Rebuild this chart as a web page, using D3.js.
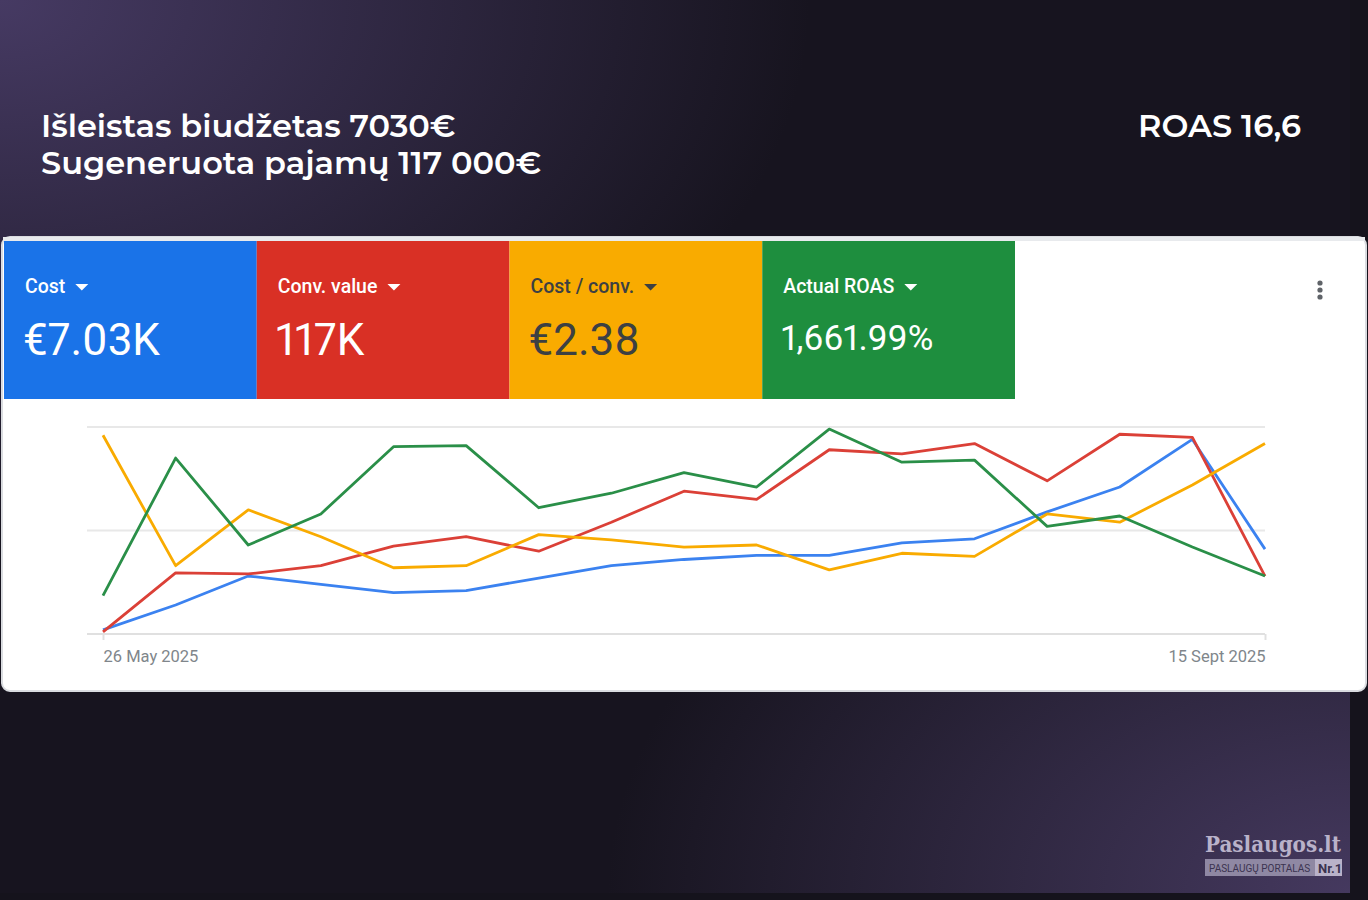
<html>
<head>
    <title>Google Ads results</title>
    <style>
        body {
            margin: 0;
            padding: 0;
            background-color: #15131c;
            overflow: hidden;
        }
        .hdr {
            font-family: Montserrat, "Open Sans", sans-serif;
            font-weight: 600;
            fill: #ffffff;
        }
        .card-label {
            font-family: Roboto, Arial, sans-serif;
            font-size: 19.5px;
            font-weight: 500;
        }
        .card-value {
            font-family: Roboto, Arial, sans-serif;
            font-variant-numeric: proportional-nums;
            font-feature-settings: "pnum" 1;
        }
        .axis-label {
            font-family: Roboto, Arial, sans-serif;
            font-size: 16.5px;
            fill: #80868b;
        }
    </style>
</head>
<body>
<div id="chart"></div>
<script src="https://d3js.org/d3.v7.min.js"></script>
<script>
// weekly points, 26 May 2025 .. 15 Sept 2025
const weeks = ["2025-05-26","2025-06-02","2025-06-09","2025-06-16","2025-06-23","2025-06-30",
    "2025-07-07","2025-07-14","2025-07-21","2025-07-28","2025-08-04","2025-08-11",
    "2025-08-18","2025-08-25","2025-09-01","2025-09-08","2025-09-15"];
const tickLabels = ["26 May 2025", "15 Sept 2025"];

// each metric is shown on its own relative axis (0 = bottom line, 100 = top line)
const costValues = [2, 14, 28, 24, 20, 21, 27, 33, 36, 38, 38, 44, 46, 59, 71, 94, 41];
const convValues = [1, 29.5, 29, 33, 42.5, 47, 40, 54, 69, 65, 89, 87, 92, 74, 96.5, 95, 28];
const costPerConvValues = [96, 33, 60, 47, 32, 33, 48, 45.5, 42, 43, 31, 39, 37.5, 58, 54, 72, 92];
const roasValues = [18.5, 85, 43, 58, 90.5, 91, 61, 68, 78, 71, 99, 83, 84, 52, 57, 42, 28];

const cardNames = ["Cost", "Conv. value", "Cost / conv.", "Actual ROAS"];
const cardTotals = ["€7.03K", "117K", "€2.38", "1,661.99%"];
const cardColors = ["#1a73e8", "#d93025", "#f9ab00", "#1e8e3e"];
const cardText = ["#ffffff", "#ffffff", "#3c4043", "#ffffff"];
const lineColors = ["#3b82f0", "#db4037", "#f9ab00", "#2a8f48"];
const seriesValues = [costValues, convValues, costPerConvValues, roasValues];

const W = 1368, H = 900;
const svg = d3.select("#chart").append("svg")
    .attr("width", W).attr("height", H);

// background
const defs = svg.append("defs");
const g1 = defs.append("radialGradient").attr("id", "glowTL")
    .attr("cx", "0%").attr("cy", "0%").attr("r", "60%");
g1.append("stop").attr("offset", "0%").attr("stop-color", "#463a63");
g1.append("stop").attr("offset", "100%").attr("stop-color", "#463a63").attr("stop-opacity", 0);
const g2 = defs.append("radialGradient").attr("id", "glowBR")
    .attr("cx", "100%").attr("cy", "100%").attr("r", "55%");
g2.append("stop").attr("offset", "0%").attr("stop-color", "#45395f");
g2.append("stop").attr("offset", "100%").attr("stop-color", "#45395f").attr("stop-opacity", 0);

svg.append("rect").attr("width", 1350).attr("height", 893).attr("fill", "#17141f");
svg.append("rect").attr("width", 1350).attr("height", 893).attr("fill", "url(#glowTL)");
svg.append("rect").attr("width", 1350).attr("height", 893).attr("fill", "url(#glowBR)");

// headline
svg.append("text").attr("class", "hdr").attr("x", 41).attr("y", 137)
    .attr("font-size", 32).text("Išleistas biudžetas 7030€");
svg.append("text").attr("class", "hdr").attr("x", 41).attr("y", 174)
    .attr("font-size", 32).text("Sugeneruota pajamų 117 000€");
svg.append("text").attr("class", "hdr").attr("x", 1301).attr("y", 137)
    .attr("font-size", 32).attr("text-anchor", "end").text("ROAS 16,6");

// white panel
svg.append("rect").attr("x", 2).attr("y", 237).attr("width", 1364).attr("height", 454)
    .attr("rx", 8).attr("fill", "#ffffff").attr("stroke", "#dadce0").attr("stroke-width", 2);
svg.append("rect").attr("x", 3).attr("y", 237).attr("width", 1362).attr("height", 4)
    .attr("fill", "#e8eaed");

// metric cards
const cardX = d3.scaleBand().domain(cardNames).range([4, 1015]);
const cards = svg.selectAll(".card").data(cardNames).enter().append("g")
    .attr("class", "card")
    .attr("transform", d => `translate(${cardX(d)},241)`);
cards.append("rect")
    .attr("width", cardX.bandwidth()).attr("height", 158)
    .attr("fill", (d, i) => cardColors[i]);
cards.append("text").attr("class", "card-label")
    .attr("x", 21).attr("y", 52)
    .attr("fill", (d, i) => cardText[i])
    .text(d => d)
    .each(function (d, i) {
        const w = this.getComputedTextLength();
        d3.select(this.parentNode).append("path")
            .attr("d", `M${21 + w + 10},43 l13,0 l-6.5,6.5 z`)
            .attr("fill", cardText[i]);
    });
// long totals get shrunk to fit the card, like the Ads UI does
cards.append("text").attr("class", "card-value")
    .attr("x", 19)
    .attr("y", (d, i) => cardTotals[i].length > 7 ? 109 : 114)
    .attr("font-size", (d, i) => cardTotals[i].length > 7 ? 35 : 44)
    .attr("fill", (d, i) => cardText[i])
    .text((d, i) => cardTotals[i]);

// kebab menu
svg.selectAll(".dot").data([0, 1, 2]).enter().append("circle")
    .attr("cx", 1320).attr("cy", d => 283 + d * 7).attr("r", 2.6)
    .attr("fill", "#5f6368");

// line chart
const parse = d3.timeParse("%Y-%m-%d");
const dates = weeks.map(parse);
const x = d3.scaleTime().domain(d3.extent(dates)).range([103, 1265]);
const y = d3.scaleLinear().domain([0, 100]).range([634, 427]);

svg.append("g").selectAll("line").data([50, 100]).enter().append("line")
    .attr("x1", 87).attr("x2", 1265)
    .attr("y1", d => y(d)).attr("y2", d => y(d))
    .attr("stroke", "#e8e8e8").attr("stroke-width", 2);

const xAxis = d3.axisBottom(x)
    .tickValues(d3.extent(dates))
    .tickFormat((d, i) => tickLabels[i])
    .tickSizeInner(6).tickSizeOuter(0).tickPadding(10);
const ax = svg.append("g").attr("transform", `translate(0,${y(0)})`).call(xAxis);
ax.select(".domain").attr("stroke", "#e0e0e0").attr("stroke-width", 2)
    .attr("d", `M87,0H1265`);
ax.selectAll(".tick line").attr("stroke", "#e0e0e0").attr("stroke-width", 2);
ax.selectAll(".tick text").attr("class", "axis-label")
    .attr("text-anchor", (d, i) => i === 0 ? "start" : "end")
    .attr("fill", "#80868b");

const line = d3.line().x((d, i) => x(dates[i])).y(d => y(d));
svg.append("g").selectAll("path").data(seriesValues).enter().append("path")
    .attr("d", d => line(d))
    .attr("fill", "none")
    .attr("stroke", (d, i) => lineColors[i])
    .attr("stroke-width", 2.8)
    .attr("stroke-linejoin", "round");

// watermark
const wm = svg.append("g").attr("transform", "translate(1205,828)");
const logo = wm.append("text").attr("x", 0).attr("y", 24)
    .attr("font-family", "DejaVu Serif Condensed, DejaVu Serif, serif")
    .attr("font-size", 26).attr("font-weight", 700)
    .attr("fill", "#b9b2c9").text("Paslaugos.lt");
const lw = logo.node().getComputedTextLength();
logo.attr("font-size", 26 * 136 / lw);
wm.append("rect").attr("x", 0).attr("y", 31).attr("width", 137).attr("height", 17)
    .attr("fill", "#8f88a3");
wm.append("rect").attr("x", 110).attr("y", 31).attr("width", 27).attr("height", 17)
    .attr("fill", "#b9b2c9");
wm.append("text").attr("x", 4).attr("y", 44)
    .attr("font-family", "Roboto, sans-serif").attr("font-size", 10)
    .attr("fill", "#3b3350").text("PASLAUGŲ PORTALAS");
wm.append("text").attr("x", 113).attr("y", 45)
    .attr("font-family", "Roboto, sans-serif").attr("font-size", 13).attr("font-weight", 700)
    .attr("fill", "#3b3350").text("Nr.1");
</script>
</body>
</html>
